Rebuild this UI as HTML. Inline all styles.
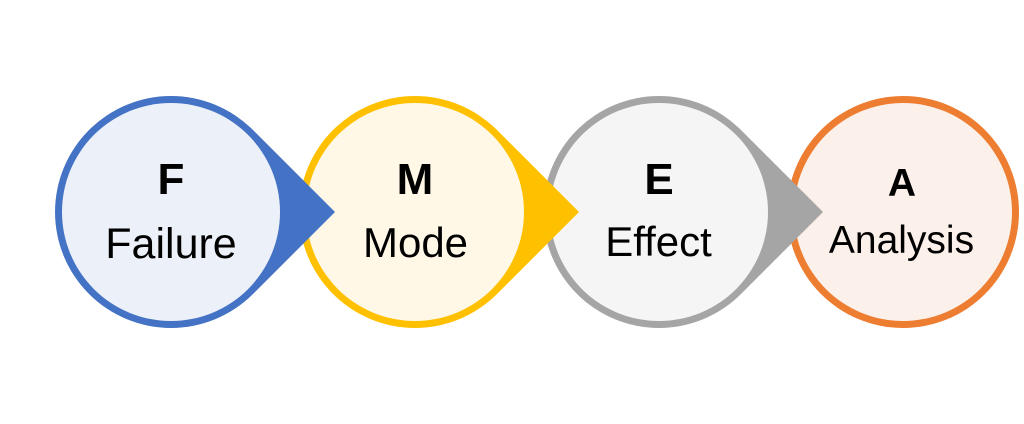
<!DOCTYPE html>
<html>
<head>
<meta charset="utf-8">
<style>
  html, body { margin: 0; padding: 0; background: #ffffff; }
  body { width: 1024px; height: 424px; overflow: hidden; }
  svg { display: block; }
  text { font-family: "Liberation Sans", Arial, sans-serif; fill: #000; text-anchor: middle; }
  .b { font-weight: bold; }
</style>
</head>
<body>
<svg width="1024" height="424" viewBox="0 0 1024 424" xmlns="http://www.w3.org/2000/svg">
  <!-- Orange (drawn first, bottom) -->
  <circle cx="903" cy="212" r="116" fill="#ED7D31"/>
  <circle cx="903" cy="212" r="109" fill="#FCF0EA"/>

  <!-- Gray teardrop -->
  <path d="M741 130 A116 116 0 1 0 741 294 L823 212 Z" fill="#A5A5A5"/>
  <circle cx="659" cy="212" r="109" fill="#F5F5F5"/>

  <!-- Yellow teardrop -->
  <path d="M497 130 A116 116 0 1 0 497 294 L579 212 Z" fill="#FFC000"/>
  <circle cx="415" cy="212" r="109" fill="#FFF8E6"/>

  <!-- Blue teardrop -->
  <path d="M253 130 A116 116 0 1 0 253 294 L335 212 Z" fill="#4472C4"/>
  <circle cx="171" cy="212" r="109" fill="#ECF1F9"/>

  <!-- Labels -->
  <text class="b" x="171" y="194" font-size="44">F</text>
  <text x="171" y="258" font-size="43">Failure</text>

  <text class="b" x="415" y="194" font-size="44">M</text>
  <text x="415.5" y="257" font-size="42">Mode</text>

  <text class="b" x="659" y="194" font-size="44">E</text>
  <text x="658.5" y="256" font-size="42">Effect</text>

  <text class="b" x="902" y="196" font-size="39">A</text>
  <text x="901.5" y="253" font-size="39">Analysis</text>
</svg>
</body>
</html>
